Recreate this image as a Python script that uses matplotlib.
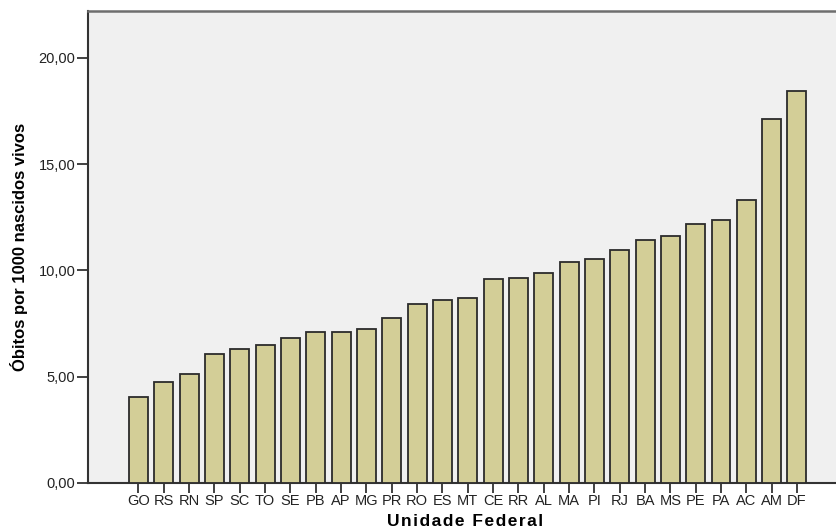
import matplotlib
matplotlib.use("Agg")
import matplotlib.pyplot as plt
import numpy as np

states = ["GO", "RS", "RN", "SP", "SC", "TO", "SE", "PB", "AP", "MG", "PR", "RO", "ES", "MT",
          "CE", "RR", "AL", "MA", "PI", "RJ", "BA", "MS", "PE", "PA", "AC", "AM", "DF"]
values = [4.06, 4.74, 5.13, 6.05, 6.29, 6.51, 6.83, 7.10, 7.10, 7.26, 7.78, 8.42, 8.59, 8.69,
          9.60, 9.63, 9.88, 10.40, 10.52, 10.97, 11.45, 11.60, 12.20, 12.37, 13.31, 17.11, 18.42]
yticks = [0, 5, 10, 15, 20]
ytick_labels = ["0,00", "5,00", "10,00", "15,00", "20,00"]
xlabel = "Unidade Federal"

fig = plt.figure(figsize=(8.36, 5.31), dpi=100)
ax = fig.add_axes([88/836, (531-483)/531, (836-88)/836, (483-11)/531])
ax.set_facecolor("#F0F0F0")

x = np.arange(len(states))
ax.bar(x, values, width=0.75, color="#D3CE97", edgecolor="#2b2b2b", linewidth=1.3, zorder=3)

ax.set_xlim(-1.99, 27.54)
ax.set_ylim(0, 22.2)
ax.set_xticks(x)
ax.set_xticklabels(states, fontsize=10.5, family=["Liberation Sans", "DejaVu Sans"], color="#222222")
ax.set_yticks(yticks)
ax.set_yticklabels(ytick_labels, fontsize=10.5, family=["Liberation Sans", "DejaVu Sans"], color="#222222")
ax.tick_params(axis="x", length=7, width=1.3, color="#333333", pad=1)
ax.tick_params(axis="y", length=8, width=1.3, color="#333333", pad=1)

for side in ["left", "bottom"]:
    ax.spines[side].set_color("#333333")
    ax.spines[side].set_linewidth(1.5)
ax.spines["top"].set_color("#6E6E6E")
ax.spines["top"].set_linewidth(1.8)
ax.spines["right"].set_visible(False)

fig.text(465/836, 1 - 521/531, "\u200a".join(xlabel), fontsize=12.5, fontweight="bold",
         family=["Liberation Sans", "DejaVu Sans"], ha="center", va="center")
ax.set_ylabel("Óbitos por 1000 nascidos vivos", fontsize=12, fontweight="bold",
              family=["Liberation Sans Narrow", "Liberation Sans", "DejaVu Sans"], labelpad=8)

fig.savefig("out.png", dpi=100)
